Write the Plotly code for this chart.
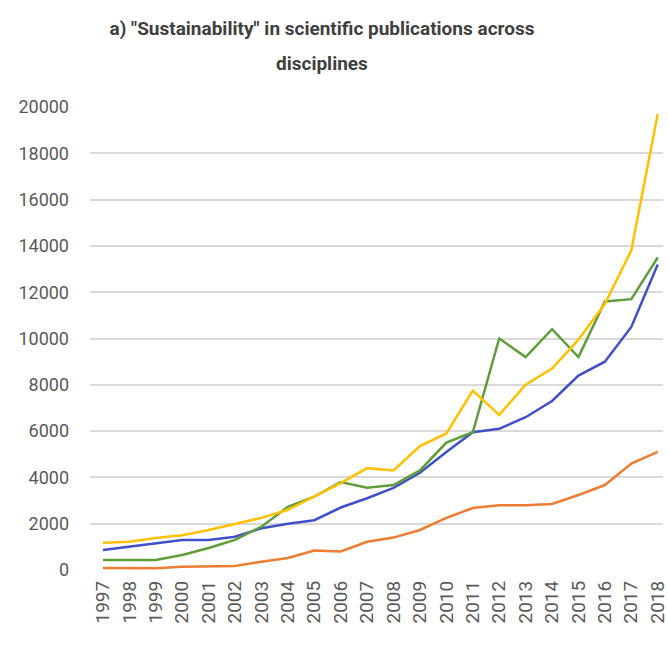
import plotly.graph_objects as go

years = [str(y) for y in range(1997, 2019)]
series_blue = [860, 1000, 1160, 1300, 1300, 1440, 1800, 2000, 2150, 2700, 3100, 3550, 4200, 5100, 5950, 6100, 6600, 7300, 8400, 9000, 10500, 13200]
series_orange = [90, 80, 80, 140, 140, 170, 360, 520, 840, 800, 1220, 1400, 1730, 2250, 2680, 2800, 2800, 2850, 3240, 3670, 4600, 5100]
series_yellow = [1180, 1220, 1380, 1500, 1730, 2000, 2250, 2600, 3170, 3750, 4400, 4300, 5350, 5900, 7750, 6700, 8000, 8700, 9950, 11500, 13800, 19700]
series_green = [430, 430, 430, 650, 950, 1300, 1870, 2730, 3170, 3800, 3550, 3670, 4300, 5500, 5950, 10000, 9200, 10400, 9200, 11600, 11700, 13500]

y_ticks = [0, 2000, 4000, 6000, 8000, 10000, 12000, 14000, 16000, 18000, 20000]
title_line1 = "a) \"Sustainability\" in scientific publications across"
title_line2 = "disciplines"

W, H = 668, 648
L, R, T, B = 90, 5, 107, 78
PW, PH = W - L - R, H - T - B

fig = go.Figure()
for vals, col in [(series_orange, "#ED7D31"), (series_blue, "#4050C8"),
                  (series_green, "#5E9E3A"), (series_yellow, "#FFC000")]:
    fig.add_trace(go.Scatter(x=years, y=vals, mode="lines",
                             line=dict(color=col, width=2.5), showlegend=False))

title_font = dict(family="Roboto, Liberation Sans", size=19, color="#404040", weight="bold")
fig.update_layout(
    width=W, height=H,
    paper_bgcolor="white", plot_bgcolor="white",
    margin=dict(l=L, r=R, t=T, b=B, autoexpand=False),
    title=dict(text=title_line1, x=322 / W, xanchor="center",
               y=1 - 28 / H, yanchor="middle", font=title_font),
    annotations=[dict(text=title_line2, xref="paper", yref="paper",
                      x=(322 - L) / PW, y=(H - B - 63) / PH,
                      xanchor="center", yanchor="middle", showarrow=False,
                      font=title_font)],
    font=dict(family="Roboto, Liberation Sans", color="#595959"),
)
fig.update_xaxes(type="category", range=[-0.49, 21.2], tickangle=-90,
                 tickfont=dict(size=19, color="#595959"), showgrid=False,
                 showline=False, ticks="", ticklabelstandoff=6, automargin=False)
fig.update_yaxes(range=[0, 20000], tickvals=y_ticks, ticktext=[str(v) for v in y_ticks],
                 tickfont=dict(size=18, color="#595959"), showgrid=True,
                 gridcolor="#d9d9d9", gridwidth=1.5, zeroline=False, ticks="",
                 ticklabelstandoff=20, automargin=False)

fig.write_html("out.html", config={"displayModeBar": False},
               post_script="document.body.style.margin='0';document.body.style.overflow='hidden';")
